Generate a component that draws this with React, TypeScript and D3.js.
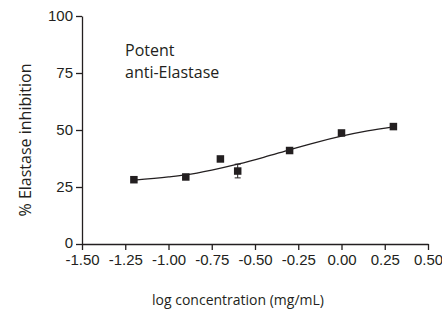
import React, { useEffect, useRef } from 'react';
import * as d3 from 'd3';

// measured points
const logConc = [-1.2, -0.9, -0.7, -0.6, -0.3, 0.0, 0.3];
const inhibition = [28.2, 29.4, 37.3, 32.0, 41.0, 48.7, 51.5];
const errors = [0, 0, 0, 3, 0, 0, 0];

// fitted curve
const fitX = [-1.2, -1.0, -0.9, -0.75, -0.6, -0.45, -0.3, -0.15, 0.0, 0.15, 0.3];
const fitY = [28.0, 29.4, 30.3, 32.4, 35.0, 38.0, 41.3, 44.5, 47.3, 49.6, 51.4];

const xTicks = [-1.5, -1.25, -1.0, -0.75, -0.5, -0.25, 0, 0.25, 0.5];
const yTicks = [0, 25, 50, 75, 100];

const W = 442;
const H = 311;
const margin = { left: 82, top: 16, right: 14, bottom: 67 };
const ink = '#231f20';

export default function App() {
  const ref = useRef<SVGSVGElement>(null);

  useEffect(() => {
    const svg = d3.select(ref.current);
    svg.selectAll('*').remove();

    const x = d3.scaleLinear().domain([-1.5, 0.5]).range([margin.left, W - margin.right]);
    const y = d3.scaleLinear().domain([0, 100]).range([H - margin.bottom, margin.top]);

    const fmt = (d: any) => d3.format('.2f')(d).replace('−', '-');
    const xAxis = d3.axisBottom(x).tickValues(xTicks).tickFormat(fmt).tickSizeInner(6).tickSizeOuter(0).tickPadding(4);
    const yAxis = d3.axisLeft(y).tickValues(yTicks).tickFormat(d3.format('d')).tickSizeInner(6).tickSizeOuter(0).tickPadding(3);

    const gx = svg.append('g').attr('transform', `translate(0,${y(0)})`).call(xAxis);
    const gy = svg.append('g').attr('transform', `translate(${x(-1.5)},0)`).call(yAxis);
    [gx, gy].forEach(g => {
      g.selectAll('path, line').attr('stroke', ink).attr('stroke-width', 1.3);
      g.selectAll('text')
        .attr('fill', ink)
        .style('font-family', '"Liberation Sans", Arial, sans-serif')
        .style('font-size', '15px');
    });
    // lift the "0" on the y axis a touch so it clears the x labels
    gy.selectAll('text').filter((d: any) => d === 0).attr('dy', '0.25em');

    // fit curve
    const line = d3.line<number>()
      .x((d, i) => x(fitX[i]))
      .y(d => y(d))
      .curve(d3.curveMonotoneX);
    svg.append('path')
      .datum(fitY)
      .attr('d', line)
      .attr('fill', 'none')
      .attr('stroke', ink)
      .attr('stroke-width', 1.3);

    // error bars
    const eb = svg.append('g');
    logConc.forEach((c, i) => {
      if (!errors[i]) return;
      const cx = x(c);
      eb.append('line').attr('x1', cx).attr('x2', cx)
        .attr('y1', y(inhibition[i] - errors[i])).attr('y2', y(inhibition[i] + errors[i]))
        .attr('stroke', ink).attr('stroke-width', 1);
      [inhibition[i] - errors[i], inhibition[i] + errors[i]].forEach(v => {
        eb.append('line').attr('x1', cx - 3).attr('x2', cx + 3)
          .attr('y1', y(v)).attr('y2', y(v))
          .attr('stroke', ink).attr('stroke-width', 1);
      });
    });

    // markers
    const s = 7.5;
    svg.append('g').selectAll('rect')
      .data(logConc)
      .enter()
      .append('rect')
      .attr('x', d => x(d) - s / 2)
      .attr('y', (d, i) => y(inhibition[i]) - s / 2)
      .attr('width', s)
      .attr('height', s)
      .attr('fill', ink);

    const font = '"Open Sans", "Noto Sans", sans-serif';
    const note = svg.append('text')
      .attr('x', 125).attr('y', 56)
      .attr('fill', ink)
      .style('font-family', font)
      .style('font-size', '16px');
    note.append('tspan').attr('x', 125).text('Potent');
    note.append('tspan').attr('x', 125).attr('dy', 22).text('anti-Elastase');

    svg.append('text')
      .attr('transform', `translate(31,${(margin.top + H - margin.bottom) / 2 + 10}) rotate(-90)`)
      .attr('text-anchor', 'middle')
      .attr('fill', ink)
      .style('font-family', font)
      .style('font-size', '16px')
      .text('% Elastase inhibition');

    svg.append('text')
      .attr('x', 238).attr('y', 305)
      .attr('text-anchor', 'middle')
      .attr('fill', ink)
      .style('font-family', font)
      .style('font-size', '14px')
      .text('log concentration (mg/mL)');
  }, []);

  return (
    <svg ref={ref} width={W} height={H}
      style={{ position: 'absolute', left: 0, top: 0, background: '#fff' }} />
  );
}
